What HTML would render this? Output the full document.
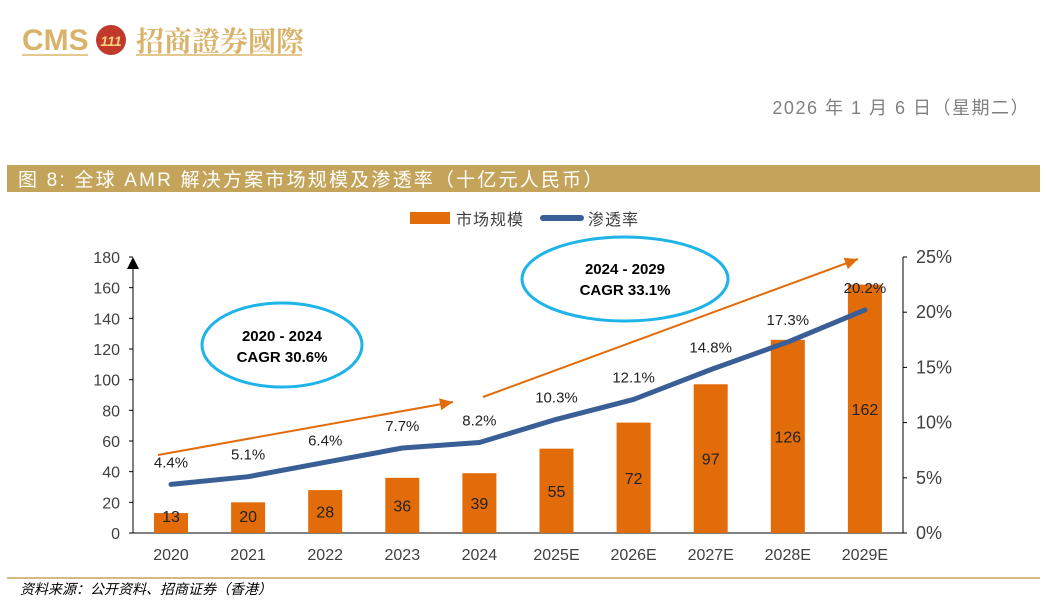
<!DOCTYPE html>
<html><head><meta charset="utf-8"><style>
body{margin:0;width:1047px;height:609px;background:#fff;overflow:hidden;font-family:"Liberation Sans","Noto Sans CJK SC",sans-serif}
</style></head><body>
<svg width="1047" height="609" xmlns="http://www.w3.org/2000/svg" style="position:absolute;left:0;top:0">
<g>
<text x="22" y="50" font-size="30" font-weight="bold" fill="#d9b36a" font-family="Liberation Sans, sans-serif">CMS</text>
<circle cx="111" cy="40" r="15" fill="#c0392b"/>
<text x="111" y="46" font-size="14" font-weight="bold" fill="#f5d37a" text-anchor="middle" font-style="italic">111</text>
<text x="136" y="51" font-size="28" fill="#d9b36a" font-family="Noto Serif CJK SC, serif" font-weight="bold">招商證券國際</text>
<rect x="22" y="54" width="66" height="2" fill="#e3c98e"/>
<rect x="136" y="54" width="166" height="2" fill="#e3c98e"/>
</g>
<text x="1030" y="114" text-anchor="end" font-size="18" fill="#808080" letter-spacing="1.5">2026 年 1 月 6 日（星期二）</text>
<rect x="7" y="165" width="1033" height="27" fill="#c4a35a"/>
<text x="18" y="186" font-size="19" fill="#fff" letter-spacing="2.2">图 8:  全球 AMR 解决方案市场规模及渗透率（十亿元人民币）</text>
<g>
<rect x="410" y="212" width="40" height="12" fill="#e36c0a"/>
<text x="456" y="225" font-size="16" fill="#404040" letter-spacing="1">市场规模</text>
<rect x="540" y="215" width="44" height="6" rx="3" fill="#3a5f96"/>
<text x="588" y="225" font-size="16" fill="#404040" letter-spacing="1">渗透率</text>
</g>
<g id="chart"></g>
<ellipse cx="282" cy="345" rx="80" ry="42" fill="none" stroke="#1eb4e8" stroke-width="3"/>
<text x="282" y="341" text-anchor="middle" font-size="15" font-weight="bold">2020 - 2024</text>
<text x="282" y="362" text-anchor="middle" font-size="15" font-weight="bold">CAGR 30.6%</text>
<ellipse cx="625" cy="279" rx="103" ry="42" fill="none" stroke="#1eb4e8" stroke-width="3"/>
<text x="625" y="274" text-anchor="middle" font-size="15" font-weight="bold">2024 - 2029</text>
<text x="625" y="295" text-anchor="middle" font-size="15" font-weight="bold">CAGR 33.1%</text>
<line x1="7" y1="578" x2="1040" y2="578" stroke="#c4a35a" stroke-width="1.5"/>
<text x="20" y="594" font-size="14" font-style="italic" fill="#000">资料来源：公开资料、招商证券（香港）</text>
</svg>
<script>
const categories=["2020","2021","2022","2023","2024","2025E","2026E","2027E","2028E","2029E"];
const marketSize=[13,20,28,36,39,55,72,97,126,162];
const penetration=[4.4,5.1,6.4,7.7,8.2,10.3,12.1,14.8,17.3,20.2];
const leftTicks=[0,20,40,60,80,100,120,140,160,180];
const rightTicks=[0,5,10,15,20,25];
const NS="http://www.w3.org/2000/svg";
const g=document.getElementById('chart');
const y0=533,yTop=257;
const yL=v=>y0-v/180*(y0-yTop);
const yR=v=>y0-v/25*(y0-yTop);
const xC=i=>171+i*77.1;
function mk(t,a,txt){const e=document.createElementNS(NS,t);for(const k in a)e.setAttribute(k,a[k]);if(txt!=null)e.textContent=txt;g.appendChild(e);return e;}
let e=mk('line',{x1:133,y1:y0,x2:133,y2:yTop+5,stroke:'#000'});

mk('path',{d:`M127 ${yTop+12} L133 ${yTop} L139 ${yTop+12}Z`,fill:'#000'});
e=mk('line',{x1:133,y1:y0,x2:903,y2:y0,stroke:'#000'});

e=mk('line',{x1:903,y1:y0,x2:903,y2:yTop,stroke:'#000'});

leftTicks.forEach(v=>{e=mk('text',{x:120,y:yL(v)+6,'text-anchor':'end','font-size':16,fill:'#404040'},v);

mk('line',{x1:129,y1:yL(v),x2:133,y2:yL(v),stroke:'#000'});});
rightTicks.forEach(v=>{e=mk('text',{x:916,y:yR(v)+6,'font-size':18,fill:'#404040'},v+'%');

mk('line',{x1:903,y1:yR(v),x2:907,y2:yR(v),stroke:'#000'});});
categories.forEach((c,i)=>{const x=xC(i),v=marketSize[i];
e=mk('rect',{x:x-17,y:yL(v),width:34,height:y0-yL(v),fill:'#e36c0a'});

const ly=Math.min((yL(v)+y0)/2,516);
e=mk('text',{x:x,y:ly+6,'text-anchor':'middle','font-size':16,fill:'#222'},v);

e=mk('text',{x:x,y:560,'text-anchor':'middle','font-size':16,fill:'#404040'},c);
});
e=mk('polyline',{points:penetration.map((p,i)=>xC(i)+','+yR(p)).join(' '),fill:'none',stroke:'#3a5f96','stroke-width':5,'stroke-linejoin':'round','stroke-linecap':'round'});

penetration.forEach((p,i)=>{e=mk('text',{x:xC(i),y:yR(p)-17,'text-anchor':'middle','font-size':15,fill:'#222'},p.toFixed(1)+'%');
});
function arrow(x1,y1,x2,y2,name){e=mk('line',{x1,y1,x2,y2,stroke:'#e36c0a','stroke-width':2});

const a=Math.atan2(y2-y1,x2-x1),L=13,W=6;
const bx=x2-L*Math.cos(a),by=y2-L*Math.sin(a);
mk('path',{d:`M${x2} ${y2} L${bx-W*Math.sin(a)} ${by+W*Math.cos(a)} L${bx+W*Math.sin(a)} ${by-W*Math.cos(a)}Z`,fill:'#e36c0a'});}
arrow(158,455,453,402,'trend-arrow-1');
arrow(483,397,858,259,'trend-arrow-2');
</script>
</body></html>
